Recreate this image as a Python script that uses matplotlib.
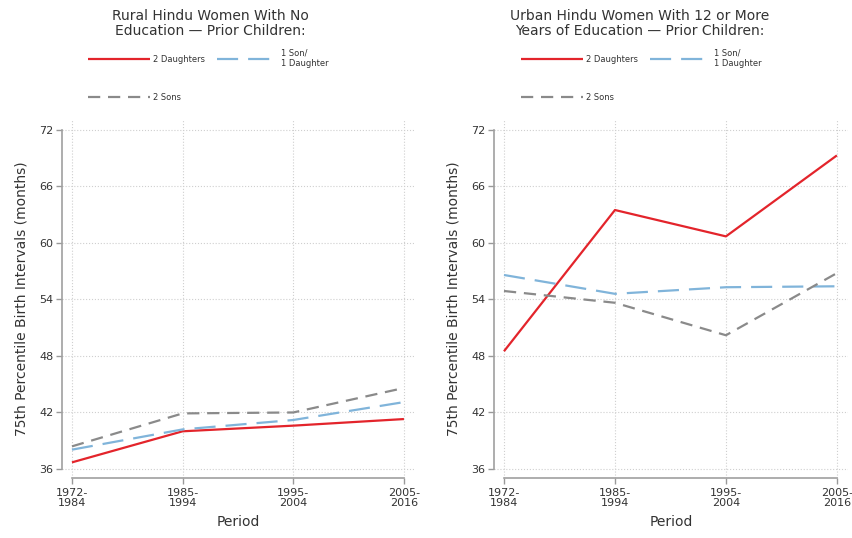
import matplotlib
matplotlib.use("Agg")
import matplotlib.pyplot as plt

periods = ["1972-\n1984", "1985-\n1994", "1995-\n2004", "2005-\n2016"]
yticks = [36, 42, 48, 54, 60, 66, 72]

rural_daughters = [36.7, 40.0, 40.6, 41.3]
rural_mixed = [38.05, 40.2, 41.2, 43.1]
rural_sons = [38.4, 41.9, 42.0, 44.6]

urban_daughters = [48.5, 63.5, 60.7, 69.3]
urban_mixed = [56.6, 54.6, 55.3, 55.4]
urban_sons = [54.9, 53.65, 50.2, 56.8]

titles = ["Rural Hindu Women With No\nEducation \u2014 Prior Children:",
          "Urban Hindu Women With 12 or More\nYears of Education \u2014 Prior Children:"]
series_labels = ["2 Daughters", "1 Son/\n1 Daughter", "2 Sons"]

RED = "#e3242b"
BLUE = "#80b4da"
GRAY = "#8a8a8a"
TXT = "#333333"
styles = [
    dict(color=RED, lw=1.6, ls="-"),
    dict(color=BLUE, lw=1.6, ls=(0, (9.5, 4.5))),
    dict(color=GRAY, lw=1.6, ls=(0, (5.5, 3.5))),
]

W, H = 852, 538
fig = plt.figure(figsize=(W / 100, H / 100), dpi=100)

panels = [
    dict(left=62, right=415, data=[rural_daughters, rural_mixed, rural_sons],
         title_x=210, leg_x=88),
    dict(left=494, right=848, data=[urban_daughters, urban_mixed, urban_sons],
         title_x=640, leg_x=521),
]
top_px, bot_px = 120, 478

x = list(range(len(periods)))
for p, title in zip(panels, titles):
    ax = fig.add_axes([p["left"] / W, 1 - bot_px / H,
                       (p["right"] - p["left"]) / W, (bot_px - top_px) / H])
    handles = []
    for vals, st, lab in zip(p["data"], styles, series_labels):
        h, = ax.plot(x, vals, solid_capstyle="butt", dash_capstyle="butt",
                     label=lab, **st)
        handles.append(h)
    ax.set_xlim(-0.09, 3.1)
    ax.set_ylim(35.04, 73.06)
    ax.set_xticks(x)
    ax.set_xticklabels(periods, fontsize=8, color=TXT, linespacing=1.0)
    ax.set_yticks(yticks)
    ax.set_yticklabels([str(v) for v in yticks], fontsize=8, color=TXT)
    ax.tick_params(axis="both", colors="#999999", labelcolor=TXT, length=4,
                   width=1, pad=2)
    ax.tick_params(axis="x", pad=3)
    for s in ["top", "right"]:
        ax.spines[s].set_visible(False)
    for s in ["left", "bottom"]:
        ax.spines[s].set_color("#a0a0a0")
        ax.spines[s].set_linewidth(1.2)
    ax.spines["left"].set_bounds(36, 72)
    ax.spines["bottom"].set_bounds(0, 3)
    ax.grid(True, ls=":", color="#cfcfcf", lw=0.8)
    ax.set_axisbelow(True)
    ax.set_ylabel("75th Percentile Birth Intervals (months)", fontsize=10,
                  color=TXT, labelpad=8)
    ax.set_xlabel("Period", fontsize=10, color=TXT, labelpad=5)

    fig.text(p["title_x"] / W, 1 - 9 / H, title, ha="center", va="top",
             fontsize=10, color=TXT, linespacing=1.1)

    leg1 = ax.legend(handles=[handles[0], handles[1]], ncol=2, fontsize=6,
                     frameon=False, loc="center left",
                     bbox_to_anchor=(p["leg_x"] / W, 1 - 58 / H),
                     bbox_transform=fig.transFigure, borderaxespad=0,
                     borderpad=0, handlelength=7.4, handletextpad=0.36,
                     columnspacing=1.45, labelcolor=TXT)
    ax.add_artist(leg1)
    ax.legend(handles=[handles[2]], fontsize=6, frameon=False,
              loc="center left", bbox_to_anchor=(p["leg_x"] / W, 1 - 97 / H),
              bbox_transform=fig.transFigure, borderaxespad=0, borderpad=0,
              handlelength=7.4, handletextpad=0.36, labelcolor=TXT)

fig.savefig("out.png", dpi=100)
